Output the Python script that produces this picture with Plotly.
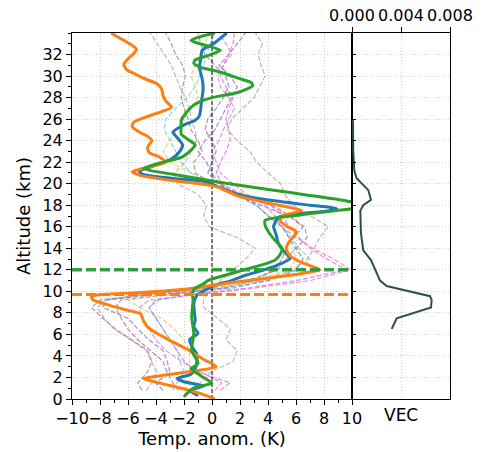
import plotly.graph_objects as go

# ---------------- data ----------------
# thick profiles: temperature anomaly (K) vs altitude (km)
alt_blue = [0.3, 0.8, 1.2, 1.6, 1.9, 2.3, 2.8, 3.3, 4.2, 4.8, 5.5, 6.1, 6.7, 7.3, 8.0, 8.9, 9.65, 10.1, 10.6, 11.0,
            11.5, 11.8, 12.4, 13.05, 13.5, 14.1, 14.6, 15.2, 16.0, 16.6, 16.9, 17.2, 17.5, 17.7, 18.0, 18.5, 18.9, 19.5,
            20.2, 20.5, 20.9, 21.2, 21.5, 22.3, 23.0, 23.6, 24.3, 24.8, 25.4, 25.9, 26.3, 27.0, 27.7, 28.5, 29.3, 30.0,
            30.8, 31.6, 32.4, 33.0, 34.0]
temp_blue = [-1.0, -1.6, -0.6, -2.0, -2.5, -1.5, -1.2, -1.1, -1.1, -1.4, -1.6, -1.0, -1.3, -1.2, -1.25, -1.3, -1.07, -0.5,
             0.24, 1.4, 2.4, 3.2, 4.6, 5.6, 5.3, 4.9, 4.7, 4.6, 4.4, 4.6, 4.8, 6.0, 8.4, 8.9, 7.0, 3.9, 2.2, 0.8, -0.5,
             -2.9, -5.0, -5.2, -4.5, -2.9, -2.3, -2.1, -2.5, -2.8, -2.1, -1.2, -0.9, -0.8, -0.75, -0.65, -0.65, -0.75,
             -0.9, -0.8, -0.7, 0.1, 1.05]

alt_orange = [0.0, 0.5, 1.0, 1.5, 1.9, 2.2, 2.5, 2.8, 3.0, 3.3, 3.6, 3.9, 4.5, 5.3, 6.1, 6.7, 7.3, 7.9, 8.3, 8.7, 9.2,
              9.5, 9.7, 9.9, 10.2, 10.5, 10.9, 11.3, 11.7, 12.0, 12.3, 12.8, 13.4, 14.0, 14.6, 15.2, 15.6, 16.0, 16.5,
              17.0, 17.5, 18.1, 18.5, 18.9, 19.4, 19.7, 20.0, 20.3, 20.8, 21.1, 21.4, 21.7, 22.0, 22.5, 22.9, 23.4,
              24.0, 24.4, 24.8, 25.3, 25.7, 26.2, 26.7, 27.1, 27.7, 28.2, 28.8, 29.3, 29.8, 30.2, 30.6, 31.1, 31.6,
              32.1, 32.5, 33.1, 33.6, 34.0]
temp_orange = [0.2, -0.8, -2.2, -3.8, -4.9, -3.5, -1.8, -0.3, 0.3, 0.0, -0.5, -0.9, -1.6, -2.8, -3.95, -4.6, -4.9, -5.1,
               -6.2, -7.3, -8.5, -8.6, -8.0, -5.0, -2.0, -0.3, 1.9, 4.5, 6.6, 7.7, 7.2, 6.2, 5.5, 5.3, 5.5, 5.9, 6.0,
               5.4, 4.9, 5.0, 6.4, 4.4, 3.0, 1.8, 0.9, 0.4, -0.9, -2.9, -5.2, -5.7, -5.0, -4.0, -3.3, -3.8, -4.5, -4.6,
               -4.3, -4.6, -5.2, -5.7, -5.6, -4.7, -3.6, -2.9, -3.3, -3.5, -3.6, -3.95, -4.9, -5.5, -6.1, -6.3, -6.0,
               -5.6, -5.4, -6.0, -6.7, -7.2]

alt_green = [0.2, 0.5, 1.1, 1.46, 2.07, 2.5, 2.8, 3.3, 4.5, 6.1, 7.6, 9.2, 9.8, 10.3, 10.7, 11.0, 11.5, 12.0, 12.6,
             12.9, 13.5, 14.0, 14.75, 15.4, 16.1, 16.6, 17.1, 17.5, 17.8, 18.1, 18.4, 19.0, 19.4, 19.8, 20.3, 20.9,
             21.4, 21.9, 22.5, 23.0, 23.6, 24.1, 24.6, 25.4, 25.9, 26.5, 27.1, 27.6, 28.0, 28.5, 29.1, 29.4, 29.7,
             30.4, 30.8, 31.2, 31.5, 31.9, 32.4, 32.8, 33.3, 33.6, 34.0]
temp_green = [-2.0, -1.8, -1.2, 0.0, -0.7, -1.2, -1.5, -1.0, -1.45, -1.3, -1.45, -1.35, -1.4, -1.2, -0.6, -0.3, 0.95,
              2.3, 3.9, 4.5, 4.9, 5.0, 4.5, 4.1, 3.8, 3.8, 6.3, 8.9, 10.4, 10.5, 9.6, 6.5, 4.4, 2.2, -0.2, -2.9, -4.9,
              -3.8, -2.1, -1.6, -1.2, -1.7, -2.2, -2.2, -2.2, -1.9, -1.5, -0.9, 0.0, 1.9, 2.9, 2.8, 2.1, 0.5, -0.8,
              -1.3, -1.2, -0.3, 0.6, -0.3, -1.5, -1.0, 0.2]

# thin dashed member profiles on a shared altitude grid (km)
alt_members = [0.8, 1.5, 2.5, 3.5, 4.5, 5.5, 6.5, 7.5, 8.5, 9.2, 9.7, 10.3, 11.0, 12.0, 13.0, 14.0, 15.0, 16.0, 17.0,
               18.0, 19.0, 20.0, 21.0, 22.0, 23.0, 24.0, 25.0, 26.0, 27.0, 28.0, 29.0, 30.0, 31.0, 32.0, 33.0, 34.0]
temp_m_gray = [-1.3, -0.8, -0.1, 1.5, 1.8, 1.0, 1.3, 0.4, -0.6, -0.6, -0.4, 0.2, 0.6, 1.5, 2.4, 3.1, 1.8, -0.2, -0.6,
               -0.4, -1.0, -2.5, -2.7, -1.9, -1.5, -1.1, -1.2, -1.5, -1.6, -1.9, -2.3, -2.6, -2.9, -3.4, -3.9, -4.4]
temp_m_rosy = [-4.7, -4.3, -3.95, -4.3, -4.7, -5.8, -7.0, -7.7, -8.2, -7.6, -5.0, 0.0, 3.5, 5.8, 6.8, 7.3, 7.7, 8.3,
               7.0, 5.8, 5.2, 4.9, 4.0, 3.2, 2.7, 1.8, 1.1, 1.4, 2.2, 3.0, 3.4, 3.8, 3.5, 3.3, 3.6, 3.1]
temp_m_purple = [-2.4, -2.8, -3.2, -3.5, -4.4, -5.3, -6.0, -6.5, -6.9, -6.5, -3.0, 0.8, 3.0, 4.5, 5.0, 5.3, 5.8, 6.5,
                 5.5, 3.5, 1.5, 0.5, 0.0, -0.4, -1.0, -0.5, 0.2, 0.6, 1.0, 1.4, 1.8, 1.3, 0.5, 1.2, 1.8, 2.4]
temp_m_pink = [0.2, 0.7, -0.8, -2.2, -3.3, -4.0, -4.5, -5.0, -5.2, -4.5, -1.0, 3.0, 7.0, 9.9, 8.7, 7.2, 6.0, 5.0, 4.5,
               3.8, 2.5, 1.5, 0.6, 0.3, 0.0, 0.5, 0.8, 1.2, 1.6, 1.2, 0.6, 0.4, 0.8, 1.4, 1.0, 0.5]
temp_m_olive = [-2.0, -1.7, -1.6, -1.6, -1.6, -2.0, -2.7, -3.6, -5.2, -6.0, -3.0, 0.5, 3.0, 5.5, 6.0, 5.8, 5.5, 5.0,
                5.5, 4.5, 2.5, 0.5, -1.5, -3.0, -3.5, -3.0, -2.5, -2.0, -1.5, -1.0, -1.2, -1.5, -1.2, -0.8, -0.5, -0.2]
temp_m_cyan = [-2.8, -2.5, -2.0, -2.3, -2.5, -3.0, -3.5, -4.0, -4.5, -3.8, -1.5, 1.5, 4.0, 6.3, 7.0, 6.2, 5.7, 5.0,
               4.1, 3.1, 1.5, -0.3, -1.5, -2.2, -2.6, -3.0, -3.4, -3.3, -2.6, -1.8, -1.2, -0.9, -0.6, -0.4, -0.1, 0.2]
temp_m_brown = [-5.0, -5.3, -4.6, -4.3, -4.6, -5.8, -6.9, -7.8, -8.6, -8.0, -4.5, -0.5, 2.5, 4.7, 5.3, 6.0, 6.8, 6.6,
                5.6, 4.2, 2.2, 0.0, -1.2, -1.3, -0.7, -1.0, -1.5, -1.7, -2.0, -2.2, -2.1, -1.9, -2.1, -2.6, -2.9, -3.3]
temp_m_slate = [-3.5, -4.0, -3.0, -3.2, -3.5, -4.5, -5.3, -6.0, -7.8, -7.5, -4.0, 1.0, 4.0, 6.0, 6.5, 6.0, 5.5, 5.0,
                4.0, 3.2, 1.8, 0.5, -0.3, 0.0, 0.3, 0.0, -0.5, -0.3, 0.3, 0.8, 1.2, 1.0, 0.2, -0.5, -0.8, -1.0]
temp_m_magenta = [0.6, 1.3, -1.0, -2.0, -2.5, -3.0, -3.5, -4.0, -4.5, -4.0, -1.5, 2.5, 6.0, 9.6, 8.2, 7.0, 6.2, 5.5,
                  5.0, 4.2, 2.0, 0.7, 0.3, 0.6, 1.0, 1.3, 1.2, 1.0, 1.2, 1.5, 1.0, 0.6, 0.8, 1.2, 1.5, 1.6]

# reference altitudes (km)
level_orange = 9.7
level_blue = 12.0
level_green = 12.0

# VEC profile
alt_vec = [6.5, 7.5, 8.5, 9.2, 9.55, 10.5, 11.0, 12.9, 13.8, 15.4, 17.5, 18.0, 18.5, 19.4, 20.5, 21.2, 23.1, 25.9]
vec = [0.00324, 0.00365, 0.00645, 0.0065, 0.00637, 0.00283, 0.00229, 0.00155, 0.00092, 0.00073, 0.00068, 0.00092,
       0.00155, 0.00133, 0.00038, 0.00019, 0.0001, 0.00008]

temp_ticks = [-10, -8, -6, -4, -2, 0, 2, 4, 6, 8, 10]
alt_ticks = list(range(0, 34, 2))
vec_ticks = [0.0, 0.004, 0.008]
vec_ticktext = ["0.000", "0.004", "0.008"]

# ---------------- figure ----------------
FONT = "DejaVu Sans"
C_BLUE, C_ORANGE, C_GREEN = "#1f77b4", "#ff7f0e", "#2ca02c"

fig = go.Figure()

members = [
    (temp_m_gray, "#a8a8a8"),
    (temp_m_rosy, "#b89a9a"),
    (temp_m_purple, "#9467bd"),
    (temp_m_pink, "#e377c2"),
    (temp_m_olive, "#cfd05a"),
    (temp_m_cyan, "#5fd0dc"),
    (temp_m_brown, "#a07a72"),
    (temp_m_slate, "#8070b0"),
    (temp_m_magenta, "#e060e8"),
]
for temps, col in members:
    fig.add_trace(go.Scatter(x=temps, y=alt_members, mode="lines", opacity=0.75,
                             line=dict(color=col, width=1.2, dash="5px,2px"),
                             xaxis="x", yaxis="y", showlegend=False, hoverinfo="skip"))

# zero line
fig.add_trace(go.Scatter(x=[0, 0], y=[0, 34], mode="lines",
                         line=dict(color="black", width=1, dash="4px,2px"),
                         xaxis="x", yaxis="y", showlegend=False, hoverinfo="skip"))

for alt, temps, col in [(alt_blue, temp_blue, C_BLUE), (alt_orange, temp_orange, C_ORANGE),
                        (alt_green, temp_green, C_GREEN)]:
    fig.add_trace(go.Scatter(x=temps, y=alt, mode="lines",
                             line=dict(color=col, width=3, shape="spline", smoothing=0.6),
                             xaxis="x", yaxis="y", showlegend=False))

for lvl, col in [(level_orange, C_ORANGE), (level_blue, C_BLUE), (level_green, C_GREEN)]:
    fig.add_trace(go.Scatter(x=[-10, 10], y=[lvl, lvl], mode="lines",
                             line=dict(color=col, width=3, dash="10px,4px"),
                             xaxis="x", yaxis="y", showlegend=False, hoverinfo="skip"))

fig.add_trace(go.Scatter(x=vec, y=alt_vec, mode="lines",
                         line=dict(color="#2f4f4f", width=2),
                         xaxis="x2", yaxis="y2", showlegend=False))

SPLIT = 280 / 378
axis_common = dict(showline=True, linecolor="black", linewidth=1, mirror=True,
                   showgrid=True, gridcolor="#cfcfcf", griddash="1px,2px", gridwidth=1,
                   zeroline=False, tickcolor="black", tickwidth=1,
                   tickfont=dict(family=FONT, size=16, color="black"))

fig.update_layout(
    width=482, height=452,
    margin=dict(l=72, r=32, t=33, b=53, autoexpand=False),
    paper_bgcolor="white", plot_bgcolor="white",
    font=dict(family=FONT, size=16, color="black"),
    xaxis=dict(domain=[0, SPLIT], range=[-10, 10], anchor="y", tickangle=0,
               tickvals=temp_ticks, ticktext=[str(v).replace("-", "\u2212") for v in temp_ticks],
               ticks="outside", ticklen=5,
               minor=dict(dtick=1, tick0=-10, ticks="outside", ticklen=3, tickcolor="black", showgrid=False),
               title=dict(text="Temp. anom. (K)", font=dict(family=FONT, size=18), standoff=5),
               **axis_common),
    yaxis=dict(domain=[0, 1], range=[0, 34], anchor="x",
               tickvals=alt_ticks, ticks="outside", ticklen=5,
               minor=dict(dtick=1, tick0=0, ticks="outside", ticklen=3, tickcolor="black", showgrid=False),
               title=dict(text="Altitude (km)", font=dict(family=FONT, size=18), standoff=7),
               **axis_common),
    xaxis2=dict(domain=[SPLIT, 1], range=[0, 0.008], anchor="y2", side="top", tickangle=0,
                tickvals=vec_ticks, ticktext=vec_ticktext, ticks="outside", ticklen=5,
                **axis_common),
    yaxis2=dict(domain=[0, 1], range=[0, 34], anchor="x2",
                tickvals=alt_ticks, showticklabels=False, ticks="inside", ticklen=4,
                **axis_common),
    annotations=[dict(text="VEC", xref="x2 domain", yref="paper", x=0.5, y=0,
                      xanchor="center", yanchor="top", yshift=-4, showarrow=False,
                      font=dict(family=FONT, size=17, color="black"))],
)

fig.write_html("out.html")
